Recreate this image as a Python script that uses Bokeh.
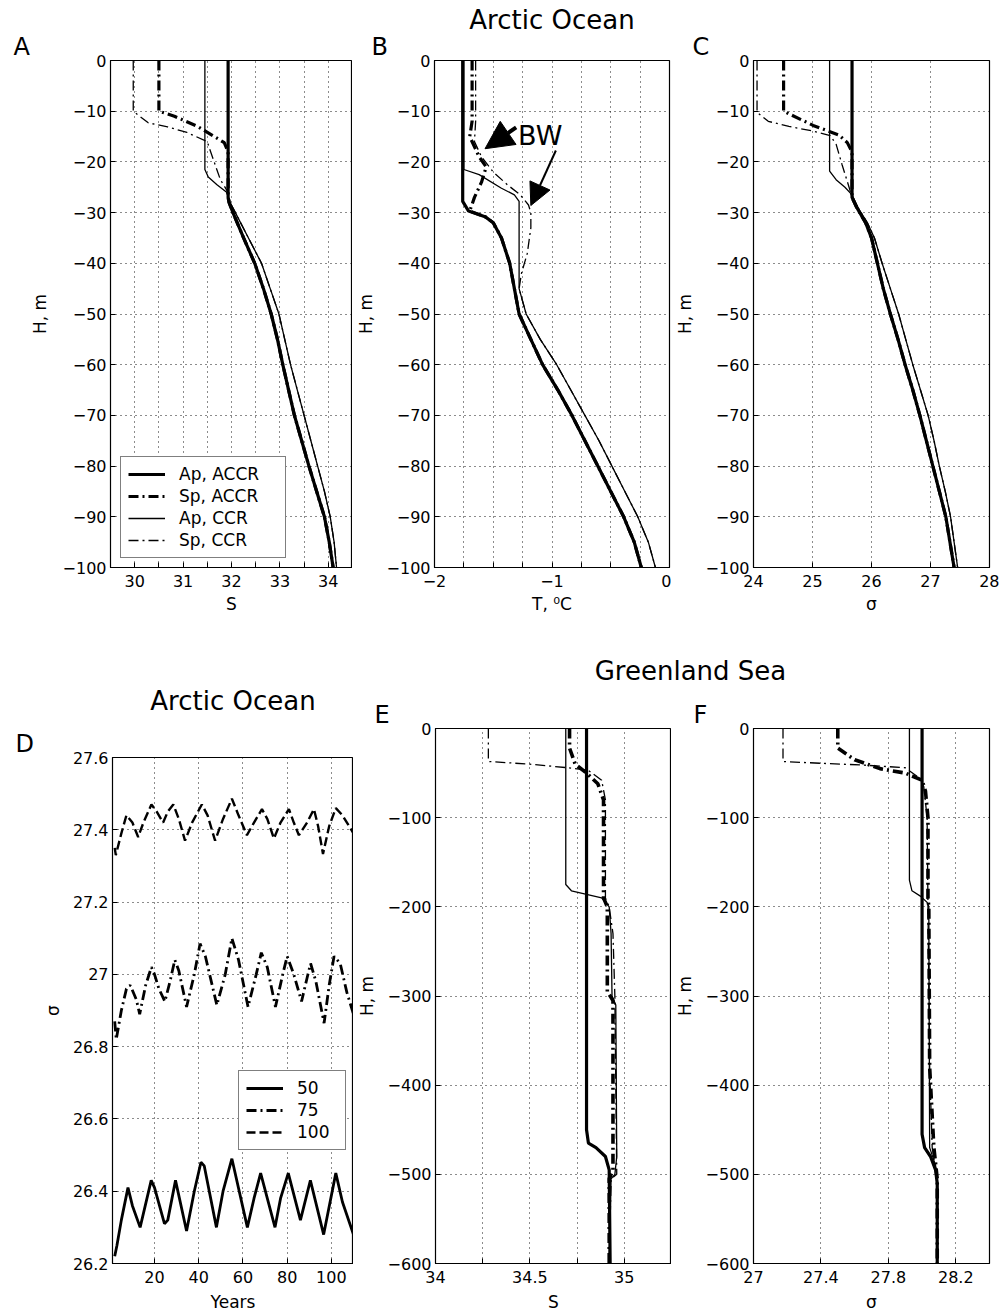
from bokeh.plotting import figure
from bokeh.models import FixedTicker, Label, Legend, LegendItem, Arrow, NormalHead, Range1d, Title
from bokeh.layouts import column, row
from bokeh.embed import file_html
from bokeh.resources import INLINE

FONT = "DejaVu Sans"

# ---------------- tick positions and labels ----------------
A_xticks = [30, 30.5, 31, 31.5, 32, 32.5, 33, 33.5, 34]
A_xlabels = ["30", "", "31", "", "32", "", "33", "", "34"]
B_xticks = [-2, -1.75, -1.5, -1.25, -1, -0.75, -0.5, -0.25, 0]
B_xlabels = ["\u22122", "", "", "", "\u22121", "", "", "", "0"]
C_xticks = [24, 25, 26, 27, 28]
C_xlabels = ["24", "25", "26", "27", "28"]
top_yticks = [0, -10, -20, -30, -40, -50, -60, -70, -80, -90, -100]
top_ylabels = ["0", "\u221210", "\u221220", "\u221230", "\u221240", "\u221250",
               "\u221260", "\u221270", "\u221280", "\u221290", "\u2212100"]
D_xticks = [20, 40, 60, 80, 100]
D_xlabels = ["20", "40", "60", "80", "100"]
D_yticks = [26.2, 26.4, 26.6, 26.8, 27.0, 27.2, 27.4, 27.6]
D_ylabels = ["26.2", "26.4", "26.6", "26.8", "27", "27.2", "27.4", "27.6"]
E_xticks = [34, 34.25, 34.5, 34.75, 35]
E_xlabels = ["34", "", "34.5", "", "35"]
F_xticks = [27, 27.4, 27.8, 28.2]
F_xlabels = ["27", "27.4", "27.8", "28.2"]
bot_yticks = [0, -100, -200, -300, -400, -500, -600]
bot_ylabels = ["0", "\u2212100", "\u2212200", "\u2212300", "\u2212400", "\u2212500", "\u2212600"]

# ---------------- Panel A : salinity, Arctic ----------------
A_H_deep = [-30, -35, -40, -45, -50, -55, -60, -65, -70, -75, -80, -85, -90, -95, -100]
A_S_deep_accr = [32.03, 32.25, 32.48, 32.66, 32.82, 32.95, 33.06, 33.18, 33.30, 33.45, 33.60, 33.76, 33.92, 34.02, 34.10]
A_S_deep_ccr = [32.08, 32.35, 32.62, 32.80, 32.98, 33.10, 33.22, 33.36, 33.50, 33.64, 33.78, 33.92, 34.04, 34.12, 34.17]
A_ap_accr_H = [0, -27, -28]
A_ap_accr_S = [31.93, 31.93, 31.95]
A_sp_accr_H = [0, -10, -11, -13, -16.2, -18, -27, -28]
A_sp_accr_S = [30.5, 30.5, 30.82, 31.3, 31.85, 31.93, 31.93, 31.95]
A_ap_ccr_H = [0, -21.5, -23, -24.5, -26, -28]
A_ap_ccr_S = [31.45, 31.45, 31.52, 31.7, 31.9, 31.97]
A_sp_ccr_H = [0, -10, -12.3, -13.1, -14.2, -16, -17.5, -23.5, -26, -28]
A_sp_ccr_S = [29.97, 29.97, 30.28, 30.68, 31.08, 31.5, 31.55, 31.77, 31.93, 31.97]

# ---------------- Panel B : temperature, Arctic ----------------
B_H_deep = [-50, -55, -60, -65, -70, -75, -80, -85, -90, -95, -100]
B_T_deep_accr = [-1.28, -1.18, -1.08, -0.95, -0.83, -0.72, -0.61, -0.50, -0.39, -0.30, -0.24]
B_T_deep_ccr = [-1.22, -1.10, -0.96, -0.84, -0.72, -0.60, -0.49, -0.38, -0.27, -0.18, -0.12]
B_ap_accr_H = [0, -27.8, -29.7, -30.8, -32, -35, -40, -45]
B_ap_accr_T = [-1.76, -1.76, -1.71, -1.57, -1.50, -1.43, -1.36, -1.32]
B_sp_accr_H = [0, -12, -15, -19, -21, -24, -27, -29.7, -30.8, -32, -35, -40, -45]
B_sp_accr_T = [-1.68, -1.68, -1.70, -1.62, -1.56, -1.60, -1.66, -1.70, -1.57, -1.50, -1.43, -1.36, -1.32]
B_ap_ccr_H = [0, -21.5, -22.5, -25.2, -26.5, -27.8, -45]
B_ap_ccr_T = [-1.75, -1.75, -1.62, -1.43, -1.32, -1.28, -1.28]
B_sp_ccr_H = [0, -12, -16, -19, -22, -24.5, -26.5, -28.5, -30, -33, -38, -42, -45]
B_sp_ccr_T = [-1.65, -1.65, -1.66, -1.60, -1.50, -1.38, -1.27, -1.20, -1.18, -1.18, -1.21, -1.26, -1.28]
BW_arrow_start_T = [-1.305, -0.967]
BW_arrow_start_H = [-13.2, -17.75]
BW_arrow_end_T = [-1.57, -1.18]
BW_arrow_end_H = [-17.4, -28.6]
BW_text_T, BW_text_H = -1.10, -14.8

# ---------------- Panel C : density, Arctic ----------------
C_H_deep = [-29, -32, -35, -40, -45, -50, -55, -60, -65, -70, -75, -80, -85, -90, -95, -100]
C_sig_deep_accr = [25.75, 25.90, 26.00, 26.10, 26.20, 26.32, 26.45, 26.57, 26.70, 26.82, 26.93, 27.04, 27.15, 27.26, 27.33, 27.40]
C_sig_deep_ccr = [25.77, 25.93, 26.05, 26.18, 26.32, 26.46, 26.58, 26.70, 26.83, 26.96, 27.06, 27.15, 27.25, 27.34, 27.40, 27.46]
C_ap_accr_H = [0, -27]
C_ap_accr_sig = [25.67, 25.67]
C_sp_accr_H = [0, -10, -12.8, -14.7, -16.2, -18, -27]
C_sp_accr_sig = [24.51, 24.51, 25.01, 25.45, 25.59, 25.67, 25.67]
C_ap_ccr_H = [0, -21.8, -23.5, -25, -26.5]
C_ap_ccr_sig = [25.29, 25.29, 25.40, 25.55, 25.67]
C_sp_ccr_H = [0, -10.2, -12, -13, -13.9, -14.8, -16.5, -20.5, -25, -27]
C_sp_ccr_sig = [24.06, 24.06, 24.25, 24.60, 25.00, 25.30, 25.40, 25.50, 25.62, 25.67]

# ---------------- Panel D : density time series ----------------
D_year_50 = [2, 3, 5, 8, 10, 13.5, 18.5, 20, 24.5, 26, 29.5, 34.5, 38, 41, 42.5, 48, 51, 55,
             62, 65, 68, 74.5, 77, 80.5, 86, 90.5, 96.5, 102, 105, 110]
D_sig_50 = [26.22, 26.25, 26.32, 26.41, 26.36, 26.30, 26.43, 26.41, 26.31, 26.32, 26.43, 26.29, 26.40,
            26.48, 26.47, 26.30, 26.40, 26.49, 26.30, 26.38, 26.45, 26.30, 26.38, 26.45, 26.32, 26.43,
            26.28, 26.45, 26.37, 26.28]
D_year_75 = [2, 2.7, 5, 7.3, 9, 11.8, 13.3, 16, 18.6, 20, 22, 24.7, 27, 29.2, 31, 34.5, 38, 40.6, 43,
             48.2, 52, 55, 58, 62.3, 66, 68.3, 71, 74.7, 78, 80, 83, 86.5, 89, 90.6, 93, 96.7, 99,
             101.2, 104, 107, 110]
D_sig_75 = [26.87, 26.82, 26.90, 26.96, 26.97, 26.93, 26.89, 26.97, 27.02, 27.00, 26.96, 26.925, 26.98,
            27.04, 27.01, 26.91, 27.00, 27.085, 27.05, 26.915, 27.00, 27.10, 27.04, 26.91, 27.00, 27.06,
            27.02, 26.91, 27.00, 27.05, 27.00, 26.925, 26.99, 27.03, 26.98, 26.865, 26.97, 27.05, 27.03,
            26.95, 26.89]
D_year_100 = [2, 2.5, 5, 7.3, 10, 12.6, 15, 18.6, 21, 23.9, 26, 28.5, 31, 33.8, 37, 41.4, 44, 47.4, 51,
              55, 58, 61.8, 65, 68.6, 71, 74, 77, 80.8, 83, 85.3, 89, 92.1, 94, 96.2, 99, 102, 105, 108, 110]
D_sig_100 = [27.35, 27.33, 27.39, 27.44, 27.42, 27.38, 27.42, 27.47, 27.45, 27.42, 27.45, 27.47, 27.43,
             27.37, 27.42, 27.47, 27.44, 27.37, 27.43, 27.486, 27.44, 27.385, 27.42, 27.457, 27.43, 27.376,
             27.42, 27.457, 27.42, 27.385, 27.42, 27.457, 27.41, 27.333, 27.41, 27.46, 27.44, 27.41, 27.39]

# ---------------- Panel E : salinity, Greenland Sea ----------------
E_ap_accr_H = [0, -450, -465, -470, -480, -495, -600]
E_ap_accr_S = [34.80, 34.80, 34.81, 34.85, 34.90, 34.92, 34.925]
E_sp_accr_H = [0, -22, -40, -50, -62, -80, -190, -200, -295, -305, -495, -505, -600]
E_sp_accr_S = [34.71, 34.71, 34.74, 34.80, 34.86, 34.89, 34.89, 34.91, 34.91, 34.94, 34.94, 34.92, 34.92]
E_ap_ccr_H = [0, -175, -182, -186, -190, -200, -230, -300, -310, -480, -500, -505, -600]
E_ap_ccr_S = [34.69, 34.69, 34.72, 34.80, 34.88, 34.92, 34.93, 34.935, 34.955, 34.96, 34.95, 34.93, 34.92]
E_sp_ccr_H = [0, -37, -40, -44, -47, -58, -80, -190, -200, -230, -300, -500, -505, -600]
E_sp_ccr_S = [34.28, 34.28, 34.50, 34.70, 34.81, 34.88, 34.90, 34.90, 34.92, 34.94, 34.95, 34.96, 34.93, 34.92]

# ---------------- Panel F : density, Greenland Sea ----------------
F_ap_accr_H = [0, -455, -470, -480, -495, -510, -600]
F_ap_accr_sig = [28.0, 28.0, 28.015, 28.05, 28.08, 28.09, 28.09]
F_sp_accr_H = [0, -22, -35, -45, -50, -58, -70, -100, -190, -200, -380, -470, -505, -600]
F_sp_accr_sig = [27.5, 27.5, 27.6, 27.75, 27.9, 28.0, 28.02, 28.035, 28.035, 28.04, 28.045, 28.07, 28.09, 28.09]
F_ap_ccr_H = [0, -170, -182, -188, -195, -200, -470, -490, -510, -600]
F_ap_ccr_sig = [27.925, 27.925, 27.94, 27.99, 28.03, 28.04, 28.045, 28.08, 28.09, 28.09]
F_sp_ccr_H = [0, -37, -39, -41, -44, -55, -65, -100, -200, -380, -470, -505, -600]
F_sp_ccr_sig = [27.175, 27.175, 27.4, 27.65, 27.9, 27.98, 28.01, 28.03, 28.035, 28.045, 28.06, 28.09, 28.09]

# ---------------- styles ----------------
THICK, THIN = 3.2, 1.3
DASHDOT = "10 4 2 4"
DASHED = "9 4"


def setup_axis(ax, ticks, labels, title, standoff, als):
    ax.ticker = FixedTicker(ticks=ticks)
    ax.major_label_overrides = {t: l for t, l in zip(ticks, labels)}
    ax.major_tick_in = 5
    ax.major_tick_out = 0
    ax.minor_tick_line_color = None
    ax.major_tick_line_color = "black"
    ax.axis_line_color = "black"
    ax.major_label_standoff = standoff
    ax.major_label_text_font = FONT
    ax.major_label_text_font_size = "16px"
    ax.major_label_text_color = "black"
    ax.axis_label = title
    ax.axis_label_text_font = FONT
    ax.axis_label_text_font_size = "17px"
    ax.axis_label_text_font_style = "normal"
    ax.axis_label_text_color = "black"
    ax.axis_label_standoff = als


def make_panel(width, height, bl, br, bt, bb, xr, yr, xt, xl, yt, yl, xlabel, ylabel, als, xals=4):
    p = figure(width=width, height=height, x_range=Range1d(*xr), y_range=Range1d(*yr),
               min_border_left=bl, min_border_right=br, min_border_top=bt, min_border_bottom=bb,
               toolbar_location=None, output_backend="svg", title=None)
    p.background_fill_color = "white"
    p.border_fill_color = "white"
    p.outline_line_color = "black"
    p.outline_line_width = 1.2
    p.outline_line_alpha = 1.0
    setup_axis(p.xaxis[0], xt, xl, xlabel, 7, xals)
    setup_axis(p.yaxis[0], yt, yl, ylabel, 4, als)
    p.xgrid[0].ticker = p.xaxis[0].ticker
    p.ygrid[0].ticker = p.yaxis[0].ticker
    for g in (p.xgrid[0], p.ygrid[0]):
        g.grid_line_color = "black"
        g.grid_line_dash = "1 4"
        g.grid_line_width = 1
        g.grid_line_alpha = 0.9
    return p


def add_title(p, text, size, align="left", offset=0, standoff=0):
    p.add_layout(Title(text=text, align=align, offset=offset, standoff=standoff,
                       text_font=FONT, text_font_size=size, text_font_style="normal",
                       text_color="black"), "above")


def header(width, height, left, text, x, y):
    h = figure(width=width, height=height, x_range=Range1d(left, width), y_range=Range1d(0, height),
               toolbar_location=None, output_backend="svg",
               min_border_left=left, min_border_right=0, min_border_top=0, min_border_bottom=0,
               x_axis_type=None, y_axis_type=None, title=None)
    h.outline_line_color = None
    h.grid.visible = False
    h.add_layout(Label(x=x, y=y, text=text, text_font=FONT, text_font_size="26px",
                       text_align="center", text_baseline="middle", text_color="black"))
    return h


def style_legend(leg, loc, lw):
    leg.location = loc
    leg.border_line_color = "black"
    leg.border_line_width = 1
    leg.background_fill_color = "white"
    leg.background_fill_alpha = 1
    leg.label_text_font = FONT
    leg.label_text_font_size = "17px"
    leg.label_text_color = "black"
    leg.glyph_width = 37
    leg.glyph_height = 20
    leg.label_height = 20
    leg.label_width = lw
    leg.label_standoff = 14
    leg.spacing = 2
    leg.padding = 7
    leg.margin = 0


# ---------------- Top row ----------------
TOP_H = 628
pA = make_panel(352, TOP_H, 110, 0, 60, 61, (29.5, 34.5), (-100, 0), A_xticks, A_xlabels,
                top_yticks, top_ylabels, "S", "H, m", 10)
rA1 = pA.line(A_ap_accr_S + A_S_deep_accr, A_ap_accr_H + A_H_deep, line_width=THICK, color="black")
rA2 = pA.line(A_sp_accr_S + A_S_deep_accr, A_sp_accr_H + A_H_deep, line_width=THICK, color="black",
              line_dash=DASHDOT)
rA3 = pA.line(A_ap_ccr_S + A_S_deep_ccr, A_ap_ccr_H + A_H_deep, line_width=THIN, color="black")
rA4 = pA.line(A_sp_ccr_S + A_S_deep_ccr, A_sp_ccr_H + A_H_deep, line_width=THIN, color="black",
              line_dash=DASHDOT)
legA = Legend(items=[LegendItem(label="Ap, ACCR", renderers=[rA1]),
                     LegendItem(label="Sp, ACCR", renderers=[rA2]),
                     LegendItem(label="Ap, CCR", renderers=[rA3]),
                     LegendItem(label="Sp, CCR", renderers=[rA4])])
style_legend(legA, (10, 9), 99)
pA.add_layout(legA)
add_title(pA, "A", "24px", offset=-97)

pB = make_panel(319, TOP_H, 76, 2, 60, 61, (-2, 0), (-100, 0), B_xticks, B_xlabels,
                top_yticks, top_ylabels, "T, \u2070C", "H, m", 8)
pB.line(B_ap_accr_T + B_T_deep_accr, B_ap_accr_H + B_H_deep, line_width=THICK, color="black")
pB.line(B_sp_accr_T + B_T_deep_accr, B_sp_accr_H + B_H_deep, line_width=THICK, color="black",
        line_dash=DASHDOT)
pB.line(B_ap_ccr_T + B_T_deep_ccr, B_ap_ccr_H + B_H_deep, line_width=THIN, color="black")
pB.line(B_sp_ccr_T + B_T_deep_ccr, B_sp_ccr_H + B_H_deep, line_width=THIN, color="black",
        line_dash=DASHDOT)
for i, (hs, lw) in enumerate([(28, 4), (22, 2)]):
    pB.add_layout(Arrow(end=NormalHead(size=hs, fill_color="black", line_color="black"),
                        x_start=BW_arrow_start_T[i], y_start=BW_arrow_start_H[i],
                        x_end=BW_arrow_end_T[i], y_end=BW_arrow_end_H[i],
                        line_width=lw, line_color="black"))
pB.add_layout(Label(x=BW_text_T, y=BW_text_H, text="BW", text_font=FONT, text_font_size="27px",
                    text_align="center", text_baseline="middle", text_color="black"))
add_title(pB, "B", "24px", offset=-63)
add_title(pB, "Arctic Ocean", "26px", align="center", standoff=-8)

pC = make_panel(328, TOP_H, 76, 10, 60, 61, (24, 28), (-100, 0), C_xticks, C_xlabels,
                top_yticks, top_ylabels, "\u03c3", "H, m", 8)
pC.line(C_ap_accr_sig + C_sig_deep_accr, C_ap_accr_H + C_H_deep, line_width=THICK, color="black")
pC.line(C_sp_accr_sig + C_sig_deep_accr, C_sp_accr_H + C_H_deep, line_width=THICK, color="black",
        line_dash=DASHDOT)
pC.line(C_ap_ccr_sig + C_sig_deep_ccr, C_ap_ccr_H + C_H_deep, line_width=THIN, color="black")
pC.line(C_sp_ccr_sig + C_sig_deep_ccr, C_sp_ccr_H + C_H_deep, line_width=THIN, color="black",
        line_dash=DASHDOT)
add_title(pC, "C", "24px", offset=-61)

# ---------------- Bottom row ----------------
hdrD = header(353, 92, 112, "Arctic Ocean", 232.5, 20)
pD = make_panel(353, 595, 112, 0, 37, 52, (1, 110), (26.2, 27.6), D_xticks, D_xlabels,
                D_yticks, D_ylabels, "Years", "\u03c3", 7, xals=6)
rD1 = pD.line(D_year_50, D_sig_50, line_width=2.8, color="black")
rD2 = pD.line(D_year_75, D_sig_75, line_width=2.8, color="black", line_dash=DASHDOT)
rD3 = pD.line(D_year_100, D_sig_100, line_width=2.4, color="black", line_dash=DASHED)
legD = Legend(items=[LegendItem(label="50", renderers=[rD1]),
                     LegendItem(label="75", renderers=[rD2]),
                     LegendItem(label="100", renderers=[rD3])])
style_legend(legD, (126, 113), 41)
pD.add_layout(legD)
add_title(pD, "D", "24px", offset=-97)

hdrEF = header(646, 58, 0, "Greenland Sea", 337, 16)
BOT_H = 629
pE = make_panel(318, BOT_H, 76, 0, 42, 52, (34, 35.25), (-600, 0), E_xticks, E_xlabels,
                bot_yticks, bot_ylabels, "S", "H, m", 8, xals=6)
pE.line(E_ap_accr_S, E_ap_accr_H, line_width=THICK, color="black")
pE.line(E_sp_accr_S, E_sp_accr_H, line_width=3.6, color="black", line_dash=DASHDOT)
pE.line(E_ap_ccr_S, E_ap_ccr_H, line_width=THIN, color="black")
pE.line(E_sp_ccr_S, E_sp_ccr_H, line_width=THIN, color="black", line_dash=DASHDOT)
add_title(pE, "E", "24px", offset=-61)

pF = make_panel(328, BOT_H, 76, 10, 42, 52, (27, 28.4), (-600, 0), F_xticks, F_xlabels,
                bot_yticks, bot_ylabels, "\u03c3", "H, m", 8, xals=6)
pF.line(F_ap_accr_sig, F_ap_accr_H, line_width=THICK, color="black")
pF.line(F_sp_accr_sig, F_sp_accr_H, line_width=3.6, color="black", line_dash=DASHDOT)
pF.line(F_ap_ccr_sig, F_ap_ccr_H, line_width=THIN, color="black")
pF.line(F_sp_ccr_sig, F_sp_ccr_H, line_width=THIN, color="black", line_dash=DASHDOT)
add_title(pF, "F", "24px", offset=-60)

layout = column(row(pA, pB, pC),
                row(column(hdrD, pD), column(hdrEF, row(pE, pF))))
open("out.html", "w").write(file_html(layout, INLINE))
